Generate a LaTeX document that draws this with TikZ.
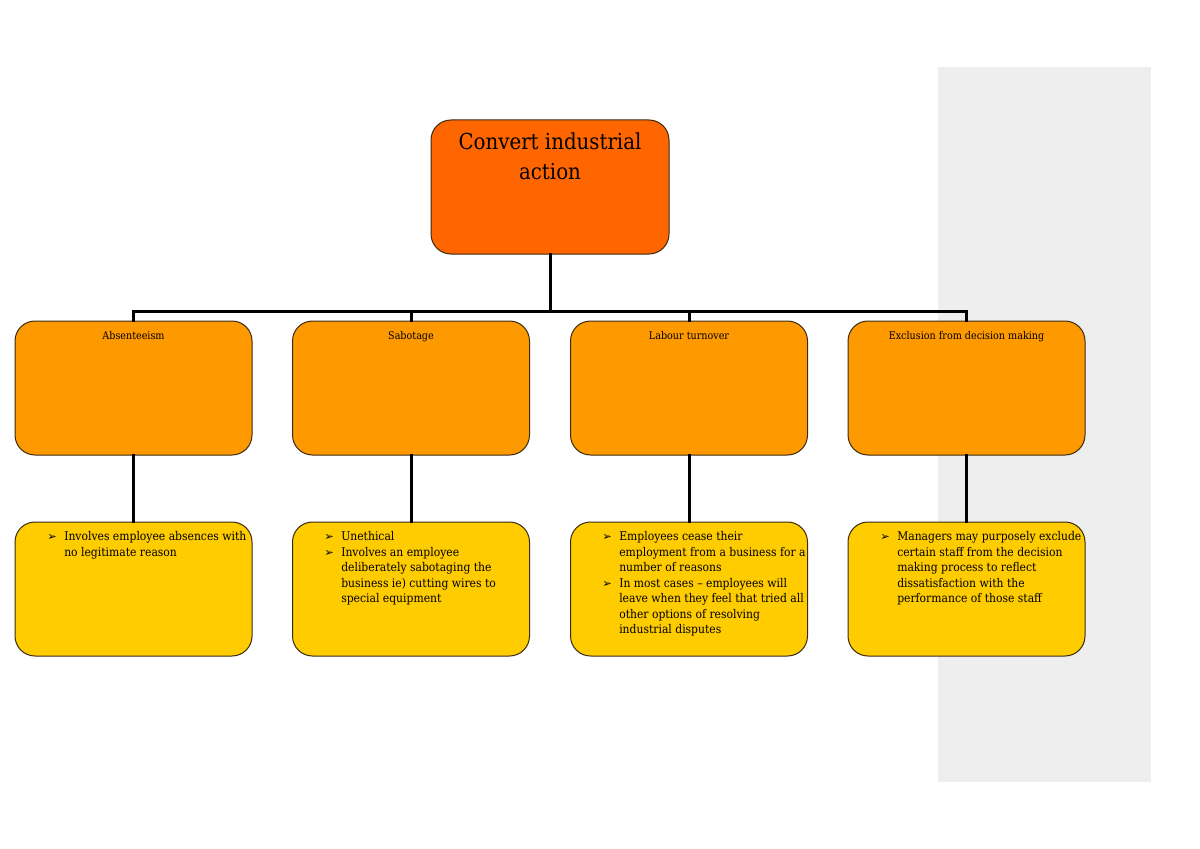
\documentclass[tikz,border=0pt]{standalone}
\usepackage{fontspec}
\setmainfont{DejaVu Serif Condensed}
\newfontfamily\symfont{DejaVu Sans}
\newdimen\pxu \pxu=0.75pt
\definecolor{topc}{HTML}{FF6600}
\definecolor{midc}{HTML}{FF9900}
\definecolor{lowc}{HTML}{FFCC00}
\definecolor{bgray}{HTML}{EEEEEE}
\definecolor{edge}{HTML}{3A2A10}
\newcommand{\bul}{\makebox[17\pxu][l]{\symfont\fontsize{8.5}{9}\selectfont ➢}}
\newcommand{\ind}{\hspace*{17\pxu}}
\tikzset{
  boxbase/.style={draw=edge, line width=0.75pt, rounded corners=15pt, minimum width=237\pxu, minimum height=134\pxu, inner sep=0pt},
  topbox/.style={boxbase, fill=topc, minimum width=238\pxu},
  midbox/.style={boxbase, fill=midc},
  lowbox/.style={boxbase, fill=lowc},
  conn/.style={line width=2.25pt, line cap=rect},
  midtxt/.style={anchor=base, font=\fontsize{8}{9}\selectfont, inner sep=0pt},
  lowtxt/.style={anchor=north west, align=left, font=\fontsize{9}{11.6}\selectfont, inner sep=0pt},
}
\begin{document}
\begin{tikzpicture}[x=0.75pt,y=-0.75pt]
\useasboundingbox (0,0) rectangle (1200,849);
\fill[bgray] (938,67) rectangle (1151,782);
% top
\node[topbox] (top) at (550,187) {};
\node[anchor=north, align=center, font=\fontsize{16.5}{22.5}\selectfont, inner sep=0pt] (toptxt) at (550,133) {Convert industrial\\action};
% level 2
\node[midbox] (m1) at (133.5,388) {};
\node[midbox] (m2) at (411,388) {};
\node[midbox] (m3) at (689,388) {};
\node[midbox] (m4) at (966.5,388) {};
\node[midtxt] (t1) at (133.5,339.5) {Absenteeism};
\node[midtxt] (t2) at (411,339.5) {Sabotage};
\node[midtxt] (t3) at (689,339.5) {Labour turnover};
\node[midtxt] (t4) at (966.5,339.5) {Exclusion from decision making};
% level 3
\node[lowbox] (l1) at (133.5,589) {};
\node[lowbox] (l2) at (411,589) {};
\node[lowbox] (l3) at (689,589) {};
\node[lowbox] (l4) at (966.5,589) {};
\node[lowtxt] (b1) at (47,531.5) {\bul Involves employee absences with\\\ind no legitimate reason};
\node[lowtxt] (b2) at (324,531.5) {\bul Unethical\\\bul Involves an employee\\\ind deliberately sabotaging the\\\ind business ie) cutting wires to\\\ind special equipment};
\node[lowtxt] (b3) at (602,531.5) {\bul Employees cease their\\\ind employment from a business for a\\\ind number of reasons\\\bul In most cases -- employees will\\\ind leave when they feel that tried all\\\ind other options of resolving\\\ind industrial disputes};
\node[lowtxt] (b4) at (880,531.5) {\bul Managers may purposely exclude\\\ind certain staff from the decision\\\ind making process to reflect\\\ind dissatisfaction with the\\\ind performance of those staff};
% connectors
\coordinate (bus) at (550,311);
\draw[conn] (top.south) -- (bus);
\draw[conn] (bus) -| (m1.north);
\draw[conn] (bus) -| (m2.north);
\draw[conn] (bus) -| (m3.north);
\draw[conn] (bus) -| (m4.north);
\draw[conn] (m1.south) -- (l1.north);
\draw[conn] (m2.south) -- (l2.north);
\draw[conn] (m3.south) -- (l3.north);
\draw[conn] (m4.south) -- (l4.north);
\end{tikzpicture}
\end{document}
